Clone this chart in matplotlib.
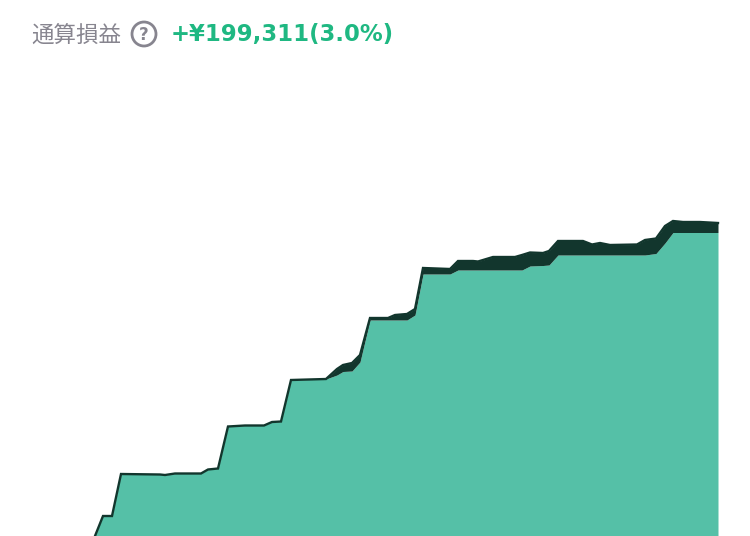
import matplotlib
matplotlib.use("Agg")
import matplotlib.pyplot as plt
from matplotlib.patches import Circle

# everything, y counted downward like the screenshot
days = [95, 103, 112, 121, 160, 165, 175, 201, 208, 218, 228, 245, 264, 272, 281, 291, 326,
        337, 343, 352, 360, 370, 388, 395, 407, 415, 423, 450, 458, 473, 478, 493, 500,
        515, 522, 530, 543, 549, 558, 583, 592, 600, 610, 637, 645, 656, 665, 673, 683, 700, 718]
upper = [536, 516, 516, 474, 474.5, 475, 473.5, 473.5, 469.5, 468.5, 426.5, 425.5, 425.5, 422, 421.5, 380, 379,
         369, 365, 363, 355, 318, 318, 315, 314, 309, 268, 269, 261, 261, 261.5, 257, 257,
         257, 255, 252.5, 253, 251, 241, 241, 244.5, 243, 245, 244.5, 240, 238.5, 226, 221, 222, 222, 223]
lower = [536, 516, 516, 474, 474.5, 475, 473.5, 473.5, 469.5, 468.5, 426.5, 425.5, 425.5, 422, 421.5, 380, 379,
         375, 371.5, 371, 362, 320, 320, 320, 320, 315, 274, 274, 270, 270, 270, 270, 270,
         270, 270, 266, 265.5, 265, 255, 255, 255, 255, 255, 255, 255, 253.5, 243, 232.5, 232.5, 232.5, 232.5]

label = "通算損益"
total = "+¥199,311(3.0%)"

fig = plt.figure(figsize=(7.5, 5.36), dpi=100)
ax = fig.add_axes([0, 0, 1, 1])
ax.set_xlim(0, 750)
ax.set_ylim(536, 0)
ax.axis("off")

ax.fill_between(days, lower, 536, color="#55c0a7", lw=0)
ax.fill_between(days, upper, lower, color="#12362d", lw=0)
ax.plot(days, upper, color="#12362d", lw=1.7, solid_joinstyle="miter")

ax.text(31, 35, label, family=["Noto Sans CJK JP", "DejaVu Sans"],
        fontsize=16.2, color="#87858f", va="center", ha="left")
ax.add_patch(Circle((144, 34), 12, fc="none", ec="#87858f", lw=2))
ax.text(144, 34.5, "?", family="DejaVu Sans", weight="bold", fontsize=12, color="#87858f",
        va="center", ha="center")
ax.text(171, 34, total, family="DejaVu Sans", weight="bold", fontsize=16.35,
        color="#1fb882", va="center", ha="left")

plt.savefig("out.png", dpi=100)
plt.close()
